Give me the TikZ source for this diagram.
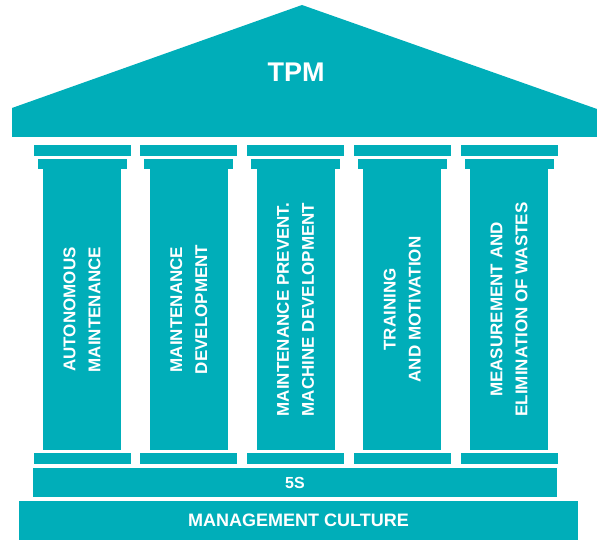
\documentclass[tikz,border=0pt]{standalone}
\usepackage{fontspec}
\setmainfont{Liberation Sans}
\definecolor{tpmteal}{RGB}{0,174,185}

\begin{document}
\begin{tikzpicture}[x=1pt,y=-1pt,
        every node/.style={inner sep=0pt,text=white,font=\bfseries},
        block/.style={rectangle,fill=tpmteal},
        shaft/.style={block,rotate=90,minimum width=281pt,minimum height=78pt,
            align=center,font=\fontsize{17}{25}\selectfont\bfseries},
        abacus/.style={block,minimum width=97pt,minimum height=11pt},
        neck/.style={block,minimum width=89pt,minimum height=10pt}
        ]
        \useasboundingbox (0,0) rectangle (597,540);

        % the roof
        \fill[tpmteal] (12,137) -- (12,108) -- (302,5) -- (597,109) -- (597,137) -- cycle;
        \node[font=\fontsize{27}{30}\selectfont\bfseries] (tpm) at (296,72) {TPM};

        % the pillars
        \node[shaft] (p1) at (82,309.5) {AUTONOMOUS\\MAINTENANCE};
        \node[shaft] (p2) at (188.75,309.5) {MAINTENANCE\\DEVELOPMENT};
        \node[shaft] (p3) at (295.5,309.5) {MAINTENANCE PREVENT.\\MACHINE DEVELOPMENT};
        \node[shaft] (p4) at (402.25,309.5) {TRAINING\\AND MOTIVATION};
        \node[shaft] (p5) at (509,309.5) {MEASUREMENT AND\\ELIMINATION OF WASTES};

        % capitals and bases
        \foreach \x [count=\i] in {82,188.75,295.5,402.25,509} {
            \node[abacus] (cap\i) at (\x,150.5) {};
            \node[neck] (neck\i) at (\x,164) {};
            \node[abacus] (base\i) at (\x,458.5) {};
        }

        % the steps
        \node[block,minimum width=524pt,minimum height=29pt,
            font=\fontsize{16}{18}\selectfont\bfseries] (fives) at (295,482.5) {5S};
        \node[block,minimum width=559pt,minimum height=39pt,
            font=\fontsize{18}{20}\selectfont\bfseries] (culture) at (298.5,520.5) {MANAGEMENT CULTURE};
\end{tikzpicture}
\end{document}
